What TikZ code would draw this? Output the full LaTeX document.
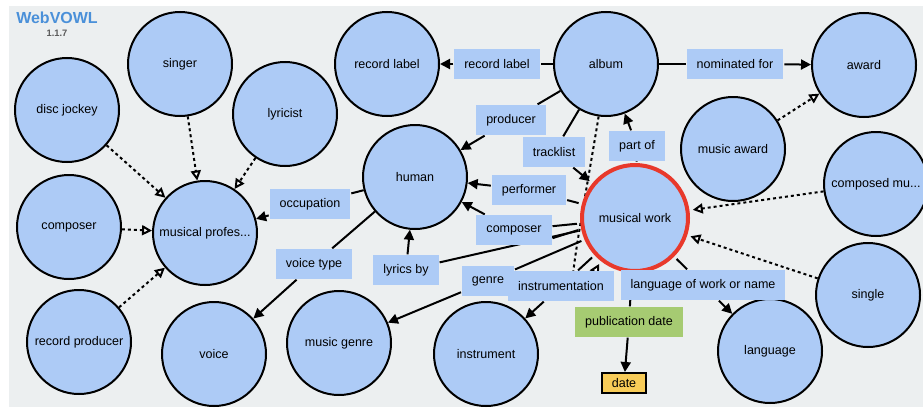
\documentclass[tikz,border=0pt]{standalone}
\usepackage{fontspec}
\setmainfont{Liberation Sans}
\usetikzlibrary{arrows.meta, backgrounds, positioning}
\definecolor{classblue}{HTML}{ADCBF6}
\definecolor{bggray}{HTML}{ECEFF0}
\definecolor{dpgreen}{HTML}{A6CB72}
\definecolor{lityellow}{HTML}{F8CC58}
\definecolor{focusred}{HTML}{E8392B}
\definecolor{titleblue}{HTML}{4A90D9}
\newcommand{\nodefont}{\fontsize{9.4}{11}\selectfont}
\tikzset{> = { Triangle[length = 7.5pt, width = 7.5pt] }}

\begin{document}
\begin{tikzpicture}[x = 0.75pt, y = -0.75pt, line width = 1.5pt,
		class/.style = { draw, circle, fill = classblue, minimum size = 78pt, inner sep = 0pt, font = \nodefont },
		focus/.style = { class, draw = focusred, line width = 3pt, minimum size = 79.5pt, outer sep = 4pt },
		prop/.style = { fill = classblue, minimum height = 22pt, inner xsep = 7.5pt, inner ysep = 0pt, font = \nodefont },
		dprop/.style = { prop, fill = dpgreen },
		lit/.style = { draw, fill = lityellow, minimum width = 33pt, minimum height = 15pt, inner sep = 0pt, font = \nodefont },
		sub/.style = { dash pattern = on 2.25pt off 2.25pt, -{Triangle[fill = white, length = 7.5pt, width = 7.5pt]} }]
		\useasboundingbox (0,0) rectangle (923,407);

		\node [font = \bfseries\fontsize{12}{14}\selectfont, text = titleblue, inner sep = 0pt] (title) at (57,18) {WebVOWL};
		\node [font = \bfseries\fontsize{7}{8}\selectfont, text = black!65, inner sep = 0pt, below = 3.4pt of title] (version) {1.1.7};

		% classes
		\node [class] (singer)     at (180,64)  {singer};
		\node [class] (dj)         at (67,110)  {disc jockey};
		\node [class] (lyricist)   at (285,114) {lyricist};
		\node [class] (composer)   at (69,227)  {composer};
		\node [class] (musprof)    at (205,233) {musical profes...};
		\node [class] (recprod)    at (79,342)  {record producer};
		\node [class] (voice)      at (214,354) {voice};
		\node [class] (genre)      at (339,343) {music genre};
		\node [class] (instrument) at (486,354) {instrument};
		\node [class] (human)      at (415,177) {human};
		\node [class] (reclabel)   at (387,64)  {record label};
		\node [class] (album)      at (606,64)  {album};
		\node [class] (award)      at (864,65)  {award};
		\node [class] (musaward)   at (733,149) {music award};
		\node [class] (composed)   at (876,184) {composed mu...};
		\node [class] (single)     at (868,295) {single};
		\node [class] (language)   at (770,351) {language};
		\node [focus] (work)       at (635,218) {musical work};

		% property labels
		\node [prop]  (lreclabel) at (497,64)  {record label};
		\node [prop]  (lnomin)    at (735,64)  {nominated for};
		\node [prop]  (lprod)     at (511,120) {producer};
		\node [prop]  (ltrack)    at (554,152) {tracklist};
		\node [prop]  (lpartof)   at (637,146) {part of};
		\node [prop]  (lperf)     at (529,190) {performer};
		\node [prop]  (lcomp)     at (514,230) {composer};
		\node [prop]  (loccup)    at (310,204) {occupation};
		\node [prop]  (lvoice)    at (314,264) {voice type};
		\node [prop]  (llyrics)   at (406,270) {lyrics by};
		\node [prop]  (lgenre)    at (488,281) {genre};
		\node [prop]  (linstr)    at (561,286) {instrumentation};
		\node [prop]  (llang)     at (703,285) {language of work or name};
		\node [dprop] (lpub)      at (629,322) {publication date};
		\node [lit]   (date)      at (624,383) {date};

		\begin{scope}[on background layer]
		\begin{scope}[line width = 1.5pt]
			\fill [bggray] (9,6) rectangle (923,407);

			\draw (album) -- (lreclabel);  \draw [->] (lreclabel) -- (reclabel);
			\draw (album) -- (lnomin);     \draw [->] (lnomin) -- (award);
			\draw (album) -- (lprod);      \draw [->] (lprod) -- (human);
			\draw (album) -- (ltrack);     \draw [->] (ltrack) -- (work);
			\draw (work) -- (lpartof);     \draw [->] (lpartof) -- (album);
			\draw (work) -- (lperf);       \draw [->] (lperf) -- (human);
			\draw (work) -- (lcomp);       \draw [->] (lcomp) -- (human);
			\draw (work.192) -- (lcomp.-12);
			\draw (work) -- (llyrics);     \draw [->] (llyrics) -- (human);
			\draw (human) -- (loccup);     \draw [->] (loccup) -- (musprof);
			\draw (human) -- (lvoice);     \draw [->] (lvoice) -- (voice);
			\draw (work) -- (lgenre);      \draw [->] (lgenre) -- (genre);
			\draw (work) -- (linstr);      \draw [->] (linstr) -- (instrument);
			\draw (work) -- (llang);       \draw [->] (llang) -- (language);
			\draw (work) -- (lpub);        \draw [->] (lpub) -- (date);

			% subclass links
			\foreach \sc in {singer, dj, lyricist, composer, recprod}
				\draw [sub] (\sc) -- (musprof);
			\draw [sub] (musaward) -- (award);
			\draw [sub] (composed) -- (work);
			\draw [sub] (single) -- (work);
			\draw [sub] (album.262) .. controls (575,260) and (555,345) .. (work.232);
		\end{scope}
		\end{scope}
	\end{tikzpicture}
\end{document}
